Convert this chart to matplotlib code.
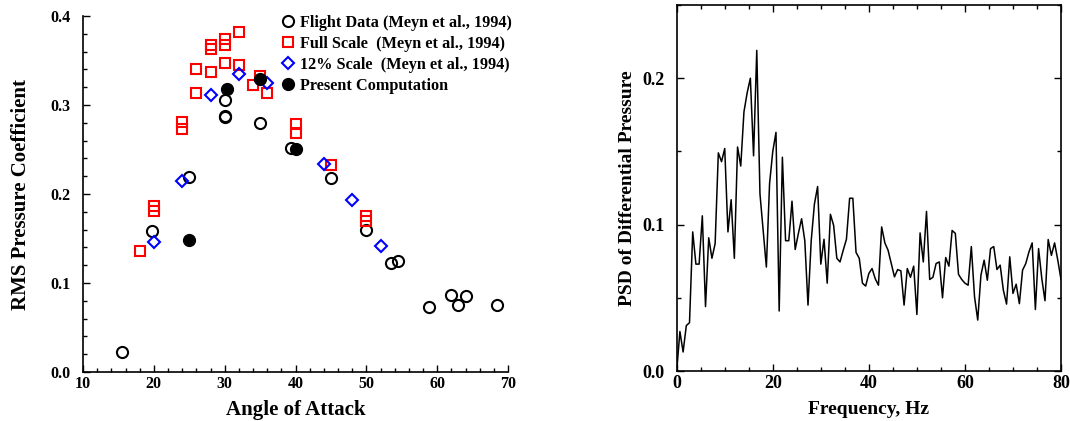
import numpy as np
import matplotlib
matplotlib.use("Agg")
import matplotlib.pyplot as plt
from matplotlib.ticker import MultipleLocator, FormatStrFormatter

plt.rcParams['font.family'] = ['Liberation Serif', 'DejaVu Serif']
plt.rcParams['font.weight'] = 'bold'

# ---- Left panel data ----
flight_aoa = [15.5, 19.7, 25.0, 30.0, 30.0, 30.0, 35.0, 39.4, 45.0, 50.0, 53.5, 54.4, 58.9, 62.0, 63.0, 64.0, 68.4]
flight_cp = [0.023, 0.158, 0.219, 0.306, 0.287, 0.288, 0.280, 0.252, 0.218, 0.160, 0.122, 0.125, 0.073, 0.087, 0.075, 0.085, 0.075]

full_aoa = [18.0, 20.0, 20.0, 24.0, 24.0, 26.0, 26.0, 28.0, 28.0, 28.0, 30.0, 30.0, 30.0,
            32.0, 32.0, 34.0, 35.0, 36.0, 40.0, 40.0, 45.0, 50.0, 50.0]
full_cp = [0.136, 0.186, 0.181, 0.281, 0.273, 0.313, 0.340, 0.337, 0.367, 0.363, 0.374, 0.367, 0.347,
           0.382, 0.345, 0.323, 0.333, 0.314, 0.279, 0.269, 0.233, 0.175, 0.170]

scale12_aoa = [20.0, 24.0, 28.0, 32.0, 36.0, 44.0, 48.0, 52.0]
scale12_cp = [0.146, 0.215, 0.311, 0.335, 0.325, 0.234, 0.193, 0.142]

comp_aoa = [25.0, 30.3, 35.0, 40.0]
comp_cp = [0.148, 0.318, 0.329, 0.251]

# ---- Right panel data ----
psd = [0.0, 0.027, 0.013, 0.031, 0.033, 0.095, 0.073, 0.073, 0.106, 0.044,
       0.091, 0.077, 0.087, 0.149, 0.143, 0.152, 0.095, 0.117, 0.077, 0.153,
       0.140, 0.177, 0.190, 0.200, 0.147, 0.219, 0.121, 0.096, 0.071, 0.128,
       0.150, 0.163, 0.041, 0.146, 0.089, 0.089, 0.116, 0.083, 0.094, 0.104,
       0.089, 0.045, 0.089, 0.114, 0.126, 0.073, 0.090, 0.060, 0.107, 0.0995,
       0.077, 0.0745, 0.0825, 0.090, 0.118, 0.118, 0.081, 0.077, 0.060, 0.058,
       0.0666, 0.070, 0.063, 0.0586, 0.0984, 0.0875, 0.0825, 0.0734, 0.0643, 0.0693,
       0.0684, 0.045, 0.070, 0.064, 0.0716, 0.0386, 0.0943, 0.0745, 0.109, 0.0625,
       0.064, 0.0734, 0.0745, 0.050, 0.0775, 0.0716, 0.096, 0.094, 0.066, 0.0625,
       0.060, 0.0586, 0.085, 0.0507, 0.0348, 0.0655, 0.0757, 0.062, 0.0836, 0.085,
       0.0693, 0.0723, 0.0552, 0.0457, 0.078, 0.053, 0.0593, 0.046, 0.0689, 0.0734,
       0.0814, 0.0875, 0.042, 0.0836, 0.0632, 0.048, 0.0898, 0.079, 0.0875, 0.0757,
       0.0625]
freq = np.linspace(0, 80, len(psd))

fig = plt.figure(figsize=(10.7, 4.21), dpi=100)

# Left axes
ax1 = fig.add_axes([83/1070, (421-372)/421, 425/1070, 356/421])
ax1.plot(flight_aoa, flight_cp, 'o', mfc='none', mec='black', mew=1.5, ms=8,
         label='Flight Data (Meyn et al., 1994)')
ax1.plot(full_aoa, full_cp, 's', mfc='none', mec='red', mew=1.5, ms=6.8,
         label='Full Scale  (Meyn et al., 1994)')
ax1.plot(scale12_aoa, scale12_cp, 'D', mfc='none', mec='blue', mew=1.5, ms=5.8,
         label='12% Scale  (Meyn et al., 1994)')
ax1.plot(comp_aoa, comp_cp, 'o', mfc='black', mec='black', ms=8.5,
         label='Present Computation')
ax1.set_xlim(10, 70)
ax1.set_ylim(0, 0.4)
ax1.xaxis.set_major_locator(MultipleLocator(10))
ax1.xaxis.set_minor_locator(MultipleLocator(2))
ax1.yaxis.set_major_locator(MultipleLocator(0.1))
ax1.yaxis.set_minor_locator(MultipleLocator(0.02))
ax1.yaxis.set_major_formatter(FormatStrFormatter('%.1f'))
ax1.spines['top'].set_visible(False)
ax1.spines['right'].set_visible(False)
for s in ['left', 'bottom']:
    ax1.spines[s].set_linewidth(1.2)
ax1.tick_params(which='both', direction='in', labelsize=11.5, width=1.0)
ax1.tick_params(which='major', length=5)
ax1.tick_params(which='minor', length=3)
ax1.tick_params(axis='x', pad=3)
ax1.tick_params(axis='y', pad=9)
ax1.set_xlabel('Angle of Attack', fontsize=15, fontweight='bold', labelpad=6)
ax1.set_ylabel('RMS Pressure Coefficient', fontsize=15, fontweight='bold', labelpad=14)
leg = ax1.legend(loc='upper left', bbox_to_anchor=(0.44, 1.035), frameon=False,
                 fontsize=11.7, handlelength=0.8, handletextpad=0.35,
                 labelspacing=0.3, borderpad=0.2)
for t in leg.get_texts():
    t.set_fontweight('bold')

# Right axes
ax2 = fig.add_axes([676.7/1070, (421-371)/421, (1061-676.7)/1070, 366/421])
ax2.plot(freq, psd, color='black', lw=1.1)
ax2.set_xlim(0, 80)
ax2.set_ylim(0, 0.25)
ax2.xaxis.set_major_locator(MultipleLocator(20))
ax2.xaxis.set_minor_locator(MultipleLocator(5))
ax2.yaxis.set_major_locator(MultipleLocator(0.1))
ax2.yaxis.set_minor_locator(MultipleLocator(0.05))
ax2.yaxis.set_major_formatter(FormatStrFormatter('%.1f'))
for s in ax2.spines.values():
    s.set_linewidth(1.2)
ax2.tick_params(which='both', direction='in', labelsize=13, width=1.0,
                top=True, right=True)
ax2.tick_params(which='major', length=5)
ax2.tick_params(which='minor', length=3)
ax2.tick_params(axis='x', pad=3)
ax2.tick_params(axis='y', pad=9)
ax2.set_xlabel('Frequency, Hz', fontsize=14, fontweight='bold', labelpad=6)
ax2.set_ylabel('PSD of Differential Pressure', fontsize=14, fontweight='bold', labelpad=4)

fig.savefig('out.png', dpi=100)
